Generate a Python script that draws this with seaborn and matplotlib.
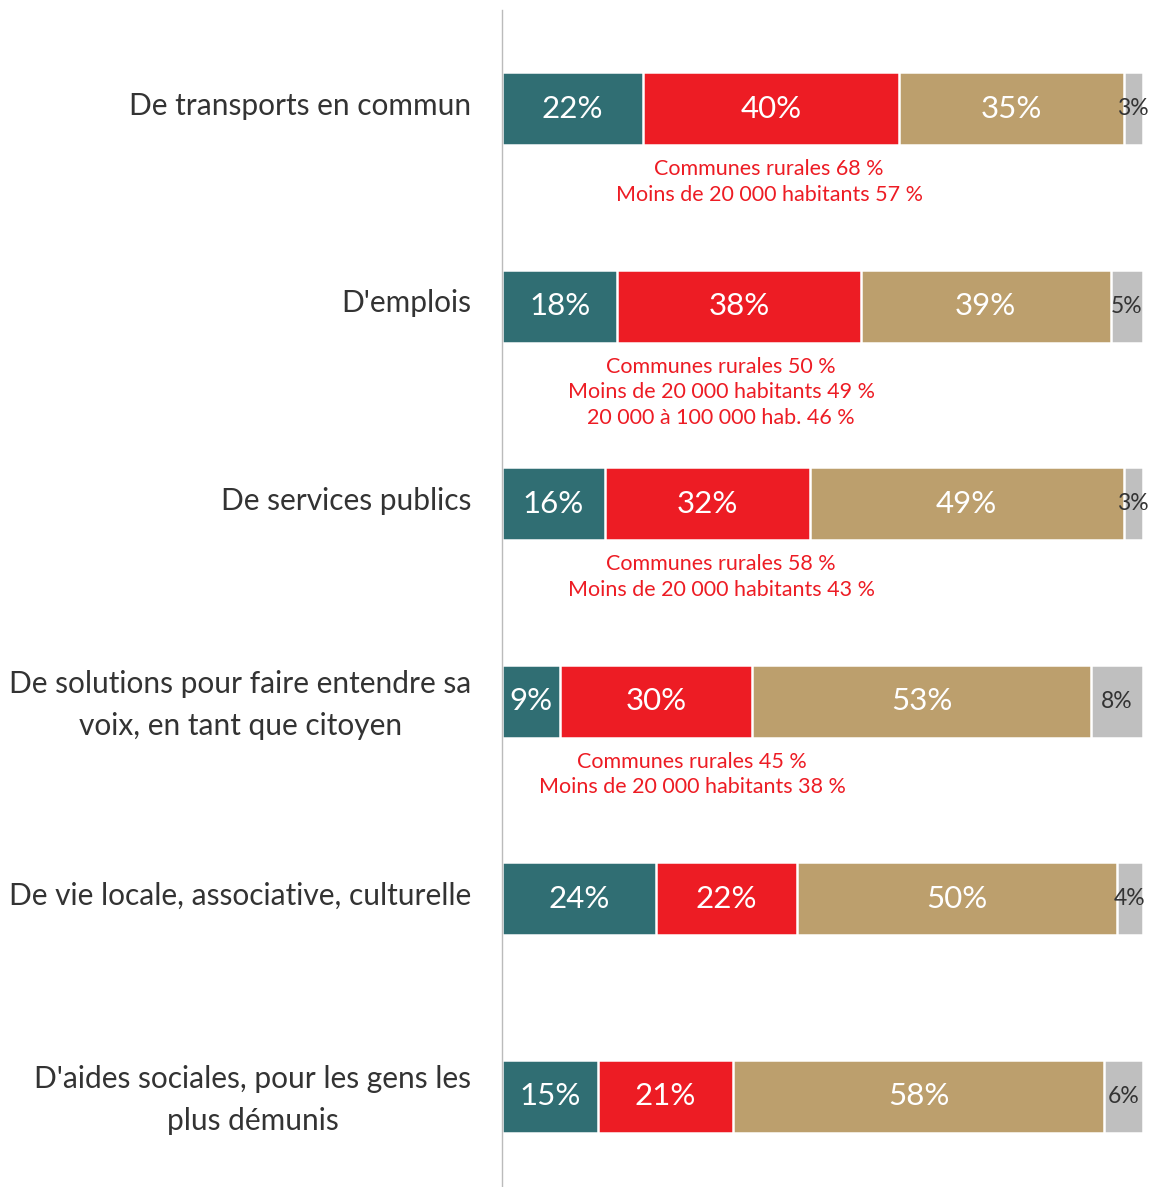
import numpy as np
import pandas as pd
import seaborn as sns
import matplotlib.pyplot as plt
import matplotlib.transforms as mtransforms

categories = [
    "De transports en commun",
    "D'emplois",
    "De services publics",
    "De solutions pour faire entendre sa\nvoix, en tant que citoyen",
    "De vie locale, associative, culturelle",
    "D'aides sociales, pour les gens les\nplus démunis",
]
teal = [22, 18, 16, 9, 24, 15]
red = [40, 38, 32, 30, 22, 21]
tan = [35, 39, 49, 53, 50, 58]
grey = [3, 5, 3, 8, 4, 6]

notes = [
    ["Communes rurales 68 %", "Moins de 20 000 habitants 57 %"],
    ["Communes rurales 50 %", "Moins de 20 000 habitants 49 %", "20 000 à 100 000 hab. 46 %"],
    ["Communes rurales 58 %", "Moins de 20 000 habitants 43 %"],
    ["Communes rurales 45 %", "Moins de 20 000 habitants 38 %"],
    [],
    [],
]
# where each note is centred, in % of the axis
note_center = [41.7, 34.2, 34.2, 29.7, None, None]

colors = ["#306E73", "#ED1C24", "#BC9F6D", "#BFBFBF"]

sns.set_theme(style="white")
plt.rcParams['font.family'] = ['Lato', 'DejaVu Sans']

df = pd.DataFrame({"cat": categories, "teal": teal, "red": red, "tan": tan, "grey": grey})
series = ["teal", "red", "tan", "grey"]
cum = df[series].cumsum(axis=1)

fig = plt.figure(figsize=(11.58, 11.87), dpi=100)
ax = fig.add_axes([0.4335, 0.0, 0.555, 0.9916])

# draw from the full total back to the first segment
for s, c in reversed(list(zip(series, colors))):
    sns.barplot(x=cum[s], y=df["cat"], orient="h", color=c, width=0.37,
                edgecolor="white", linewidth=1.8, saturation=1, ax=ax)

for i in range(len(categories)):
    left = 0
    for s, c in zip(series, colors):
        v = df.loc[i, s]
        mid = left + v / 2
        if s == "grey":
            ax.text(mid, i, f"{v}%", ha="center", va="center", fontsize=16.5,
                    color="#333333")
        else:
            ax.text(mid, i, f"{v}%", ha="center", va="center", fontsize=22.5,
                    color="white")
        left += v
    if notes[i]:
        ax.annotate("\n".join(notes[i]), xy=(note_center[i], i + 0.185), xytext=(0, -10),
                    textcoords="offset points", ha="center", va="top",
                    fontsize=15.5, color="#ED1C24", linespacing=1.36)

ax.set_xlim(0, 100.3)
ax.set_ylim(5.46, -0.5)
ax.set_xlabel("")
ax.set_ylabel("")
ax.set_xticks([])
ax.tick_params(axis="y", length=0, pad=22)
shift = mtransforms.ScaledTranslation(0, 4 / 72, fig.dpi_scale_trans)
for lab in ax.get_yticklabels():
    lab.set_fontsize(21.5)
    lab.set_color("#333333")
    lab.set_multialignment("center")
    lab.set_linespacing(1.6)
    lab.set_transform(lab.get_transform() + shift)
for sp in ["top", "right", "bottom"]:
    ax.spines[sp].set_visible(False)
ax.spines["left"].set_color("#BBBBBB")
ax.spines["left"].set_linewidth(1)

plt.savefig("out.png", dpi=100)
